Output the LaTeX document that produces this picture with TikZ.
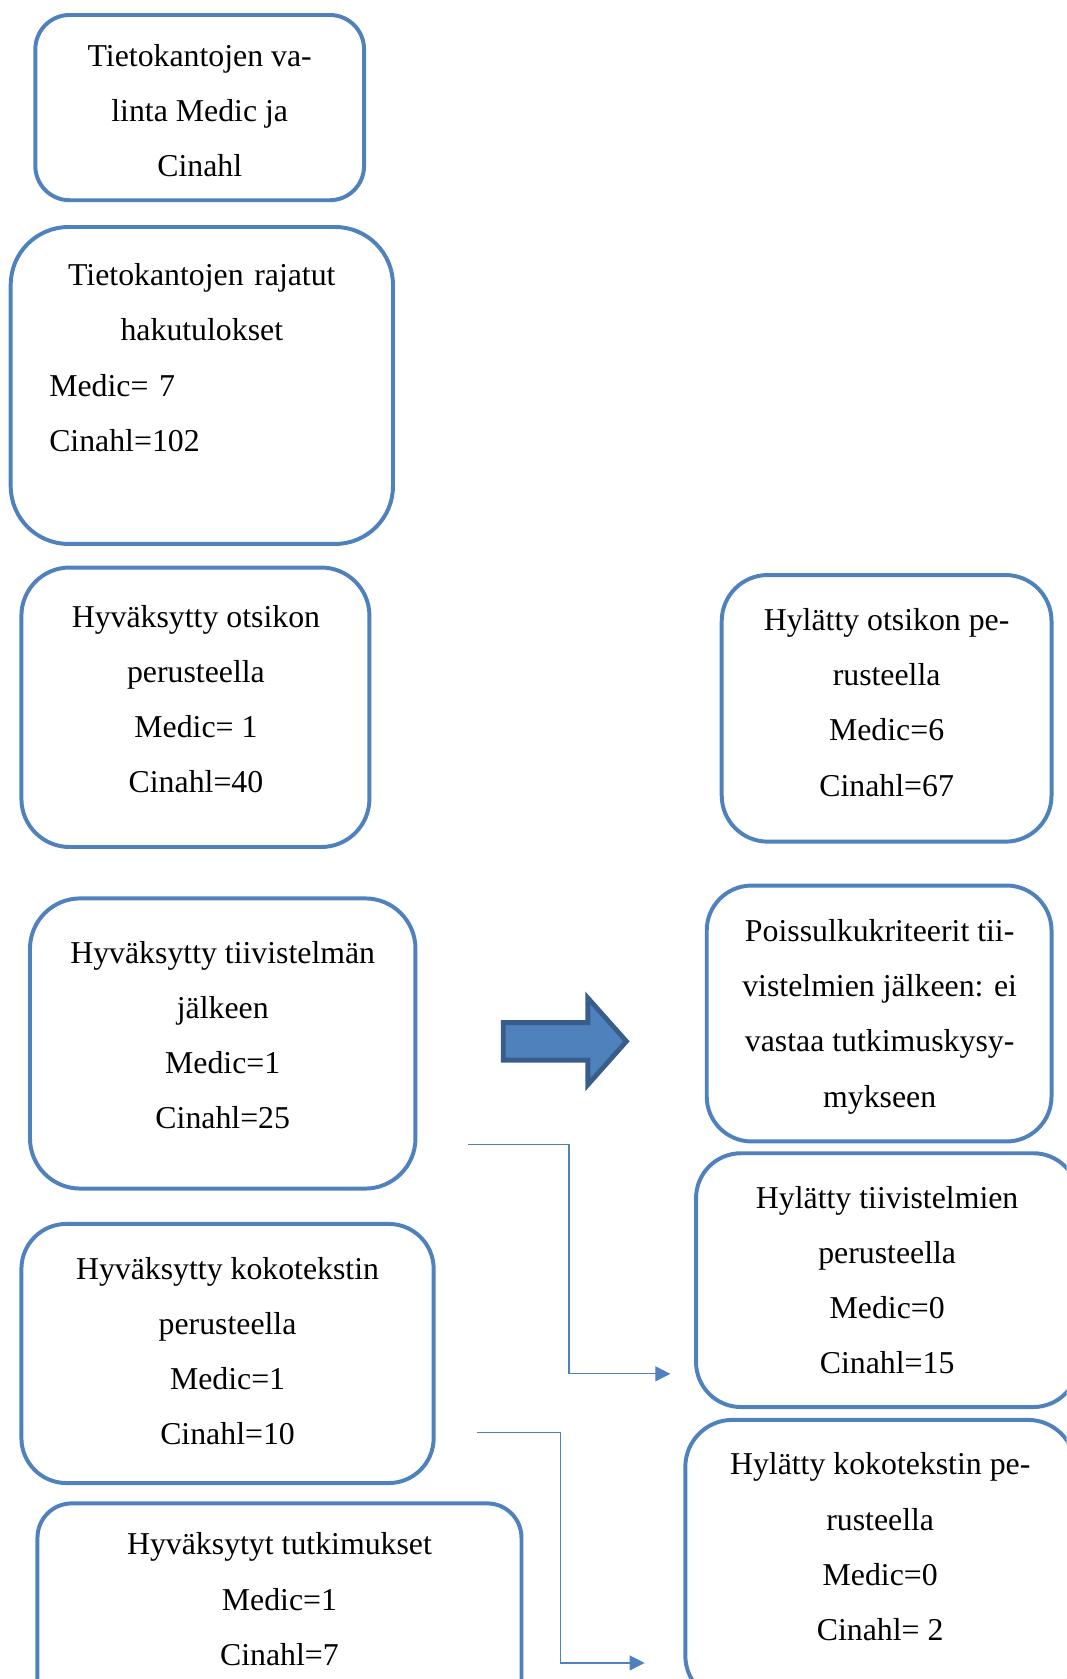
\documentclass[tikz,border=0pt]{standalone}
\usepackage{fontspec}
\setmainfont{Liberation Serif}
\usepackage{tikz}
\usetikzlibrary{positioning,calc,arrows.meta}
\definecolor{laatikkosini}{HTML}{4F81BD}
\definecolor{nuolireuna}{HTML}{385D8A}
\newcommand{\kaaviofontti}{\fontsize{29.7}{51.5}\selectfont}

\begin{document}
\begin{tikzpicture}[x=1pt,y=-1pt,
	laatikko/.style={draw=laatikkosini, line width=3.7pt, rectangle, inner sep=0pt},
	teksti/.style={align=center, inner sep=0pt, font=\kaaviofontti},
	yhteys/.style={draw=laatikkosini, line width=1.2pt, -{Triangle[length=14pt,width=14pt]}}]
	\useasboundingbox (0,0) rectangle (996,1568);
	\clip (0,0) rectangle (996,1568);

	\node[laatikko, rounded corners=32pt, minimum width=307pt, minimum height=173pt] (k1) at (186.5,100.5) {};
	\node[teksti] (t1) at (186.5,103.5) {Tietokantojen va-\\linta Medic ja\\Cinahl};

	\node[laatikko, rounded corners=54pt, minimum width=357pt, minimum height=296pt] (k2) at (188.5,360) {};
	\node[teksti, align=left, text width=285pt] (t2) at (188.5,334) {\makebox[\hsize]{Tietokantojen rajatut}\\\makebox[\hsize]{hakutulokset}\\Medic= 7\\Cinahl=102};

	\node[laatikko, rounded corners=45pt, minimum width=325pt, minimum height=261pt] (k3) at (182.5,660.5) {};
	\node[teksti] (t3) at (183,653) {Hyväksytty otsikon\\perusteella\\Medic= 1\\Cinahl=40};

	\node[laatikko, rounded corners=43pt, minimum width=308pt, minimum height=249pt] (k4) at (828,661.5) {};
	\node[teksti] (t4) at (828,656) {Hylätty otsikon pe-\\rusteella\\Medic=6\\Cinahl=67};

	\node[laatikko, rounded corners=47pt, minimum width=360pt, minimum height=271pt] (k5) at (208,974.5) {};
	\node[teksti] (t5) at (208,966.5) {Hyväksytty tiivistelmän\\jälkeen\\Medic=1\\Cinahl=25};

	\node[laatikko, rounded corners=42pt, minimum width=322pt, minimum height=239pt] (k6) at (821,946.5) {};
	\node[teksti] (t6) at (821.5,949.5) {Poissulkukriteerit tii-\\vistelmien jälkeen: ei\\vastaa tutkimuskysy-\\mykseen};

	\node[laatikko, rounded corners=42pt, minimum width=357pt, minimum height=237pt] (k7) at (828.5,1195.5) {};
	\node[teksti] (t7) at (828.5,1195.5) {Hylätty tiivistelmien\\perusteella\\Medic=0\\Cinahl=15};

	\node[laatikko, rounded corners=42pt, minimum width=385pt, minimum height=242pt] (k8) at (212.5,1264) {};
	\node[teksti] (t8) at (212.5,1262) {Hyväksytty kokotekstin\\perusteella\\Medic=1\\Cinahl=10};

	\node[laatikko, rounded corners=44pt, minimum width=364pt, minimum height=264pt] (k9) at (822,1458) {};
	\node[teksti] (t9) at (822,1444.5) {Hylätty kokotekstin pe-\\rusteella\\Medic=0\\Cinahl= 2};

	\node[laatikko, rounded corners=32pt, minimum width=452pt, minimum height=196pt] (k10) at (261,1502) {};
	\node[teksti] (t10) at (261,1493.5) {Hyväksytyt tutkimukset\\Medic=1\\Cinahl=7};

	\filldraw[fill=laatikkosini, draw=nuolireuna, line width=4.5pt]
		(470,955) -- (549,955) -- (549,932) -- (585,972.5) -- (549,1013) -- (549,990) -- (470,990) -- cycle;

	\coordinate (a1) at (437,1069);
	\coordinate (b1) at (626,1283);
	\coordinate (a2) at (445,1338);
	\coordinate (b2) at (602,1553);
	\path[yhteys] (a1) -| ($(a1)!0.5!(b1)$) |- (b1);
	\path[yhteys] (a2) -| ($(a2)!0.5!(b2)$) |- (b2);
\end{tikzpicture}
\end{document}
